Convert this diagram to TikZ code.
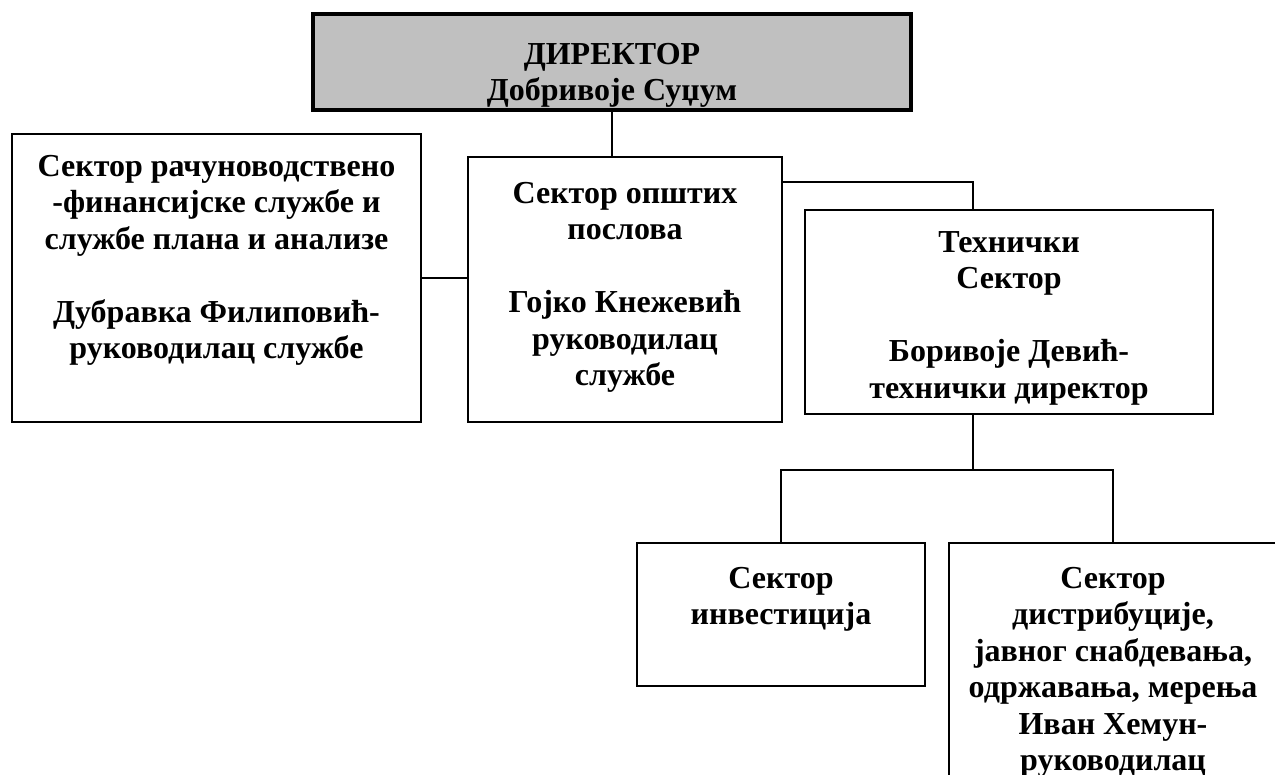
\documentclass[tikz,border=0pt]{standalone}
\usepackage{fontspec}
\setmainfont{Liberation Serif}
\usetikzlibrary{positioning,calc}
\definecolor{dirgray}{RGB}{192,192,192}
\tikzset{
	sektor/.style={draw,line width=1.8pt,anchor=north west,inner sep=0pt,outer sep=0pt},
	direktor/.style={sektor,line width=4pt,fill=dirgray},
	txt/.style={font=\bfseries\fontsize{32}{36.5}\selectfont,align=center,anchor=north,inner sep=0pt},
	veza/.style={line width=1.8pt}
}
\begin{document}
\begin{tikzpicture}[x=1pt,y=-1pt]
	\useasboundingbox (0,0) rectangle (1275,775);
	% kutije
	\node[direktor,minimum width=598pt,minimum height=96pt] (dir) at (313,14) {};
	\node[sektor,minimum width=409pt,minimum height=288pt] (rfs) at (12,134) {};
	\node[sektor,minimum width=314pt,minimum height=265pt] (ops) at (468,157) {};
	\node[sektor,minimum width=408pt,minimum height=204pt] (teh) at (805,210) {};
	\node[sektor,minimum width=288pt,minimum height=143pt] (inv) at (637,543) {};
	\node[sektor,minimum width=328pt,minimum height=300pt] (dis) at (949,543) {};
	% tekst
	\node[txt,below=29pt of dir.north] (dirT) {ДИРЕКТОР\\Добривоје Суџум};
	\node[txt,below=21pt of rfs.north] (rfsT) {Сектор рачуноводствено\\-финансијске службе и\\службе плана и анализе\\[36.5pt]Дубравка Филиповић-\\руководилац службе};
	\node[txt,below=25pt of ops.north] (opsT) {Сектор општих\\послова\\[36.5pt]Гојко Кнежевић\\руководилац\\службе};
	\node[txt,below=21pt of teh.north] (tehT) {Технички\\Сектор\\[36.5pt]Боривоје Девић-\\технички директор};
	\node[txt,below=24pt of inv.north] (invT) {Сектор\\инвестиција};
	\node[txt,below=24pt of dis.north] (disT) {Сектор\\дистрибуције,\\јавног снабдевања,\\одржавања, мерења\\Иван Хемун-\\руководилац};
	% veze
	\draw[veza] (dir.south) -- (dir.south |- ops.north);
	\draw[veza] (rfs.east) -- (rfs.east -| ops.west);
	\draw[veza] ([yshift=-25pt]ops.north east) -| ([xshift=-36pt]teh.north);
	\draw[veza] ([xshift=-36pt]teh.south) -- ++(0,56) coordinate (grana);
	\draw[veza] (inv.north) |- (grana) -| (dis.north);
\end{tikzpicture}
\end{document}
